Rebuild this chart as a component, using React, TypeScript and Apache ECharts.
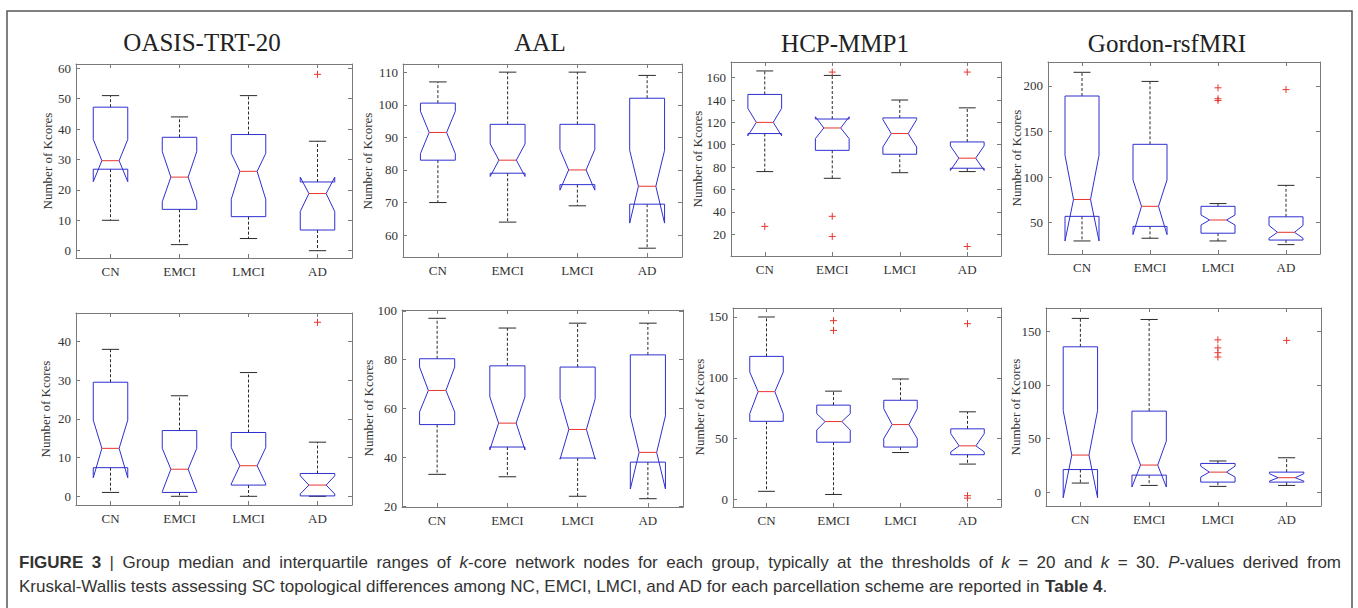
import React, { useEffect, useRef } from 'react';
import * as echarts from 'echarts';

const groups = ['CN', 'EMCI', 'LMCI', 'AD'];
const panelTitles = ['OASIS-TRT-20', 'AAL', 'HCP-MMP1', 'Gordon-rsfMRI'];
const yAxisLabel = 'Number of Kcores';

// each row: [whiskerLow, Q1, median, Q3, whiskerHigh, notchLow, notchHigh]
const oasisK20 = [
  [10, 26.8, 29.6, 47.2, 51, 22.7, 36.6],
  [2, 13.6, 24.2, 37.3, 44, 16.1, 32.6],
  [4, 11.2, 26.1, 38.2, 51, 16.9, 32],
  [0, 6.8, 18.8, 22.6, 36, 12.9, 24.2],
];
const aalK20 = [
  [70, 83, 91.5, 100.5, 107, 85, 98],
  [64, 79, 83, 94, 110, 78, 88],
  [69, 75.5, 80, 94, 110, 73.8, 86.3],
  [56, 69.5, 75, 102, 109, 63.7, 86],
];
const hcpK20 = [
  [76, 110, 120, 145, 166, 108, 132.5],
  [70, 95, 115, 123, 162, 105.5, 125],
  [75, 91.5, 110, 124, 140, 98, 122.5],
  [76, 79, 88, 102.5, 133, 77, 99],
];
const gordonK20 = [
  [30, 57, 75.5, 189, 215, 30, 124],
  [33, 46, 68, 136, 205, 37, 97],
  [30, 38.5, 53, 68, 71, 47.5, 58.5],
  [26, 31, 39.5, 56.5, 91, 33, 47],
];
const oasisK30 = [
  [1, 7.4, 12.4, 29.5, 38, 4.8, 19.7],
  [0, 1, 7, 17, 26, 1.2, 12.4],
  [0, 2.9, 7.9, 16.5, 32, 3.2, 12.6],
  [0, 0.1, 2.9, 5.9, 14, 0.6, 5.3],
];
const aalK30 = [
  [33, 53.4, 67.4, 80.4, 97, 58.6, 77],
  [32, 44.2, 54, 77.5, 93, 43, 64.8],
  [24, 39.7, 51.4, 77, 95, 39.2, 64],
  [23, 38, 42, 82, 95, 27, 57],
];
const hcpK30 = [
  [6.6, 64.2, 88.6, 117.6, 150, 70.5, 104.7],
  [4, 47, 64, 77.5, 89, 57, 70.5],
  [38.5, 43, 61.5, 81.5, 99, 50, 74.5],
  [29, 36.7, 44, 58, 72, 39, 54],
];
const gordonK30 = [
  [8.4, 21, 34.5, 135.5, 162, -5.3, 76],
  [6.2, 15.8, 25.2, 75.5, 161, 4.7, 47.5],
  [5.3, 9.3, 18.6, 26.7, 29, 14, 24.2],
  [6.2, 9.3, 13.4, 18.6, 32, 10.2, 17.1],
];

// outliers: [groupIndex, value]
const oasisK20Outliers = [[3, 58]];
const aalK20Outliers: number[][] = [];
const hcpK20Outliers = [[0, 27], [1, 165], [1, 36], [1, 18], [3, 165], [3, 9]];
const gordonK20Outliers = [[2, 198], [2, 186], [2, 184], [3, 196]];
const oasisK30Outliers = [[3, 45]];
const aalK30Outliers: number[][] = [];
const hcpK30Outliers = [[1, 147], [1, 139], [3, 144.5], [3, 3], [3, 1]];
const gordonK30Outliers = [[2, 142], [2, 134.5], [2, 130], [2, 126], [3, 141.5]];

// tick values
const oasisK20Ticks = [0, 10, 20, 30, 40, 50, 60];
const aalK20Ticks = [60, 70, 80, 90, 100, 110];
const hcpK20Ticks = [20, 40, 60, 80, 100, 120, 140, 160];
const gordonK20Ticks = [50, 100, 150, 200];
const oasisK30Ticks = [0, 10, 20, 30, 40];
const aalK30Ticks = [20, 40, 60, 80, 100];
const hcpK30Ticks = [0, 50, 100, 150];
const gordonK30Ticks = [0, 50, 100, 150];

const captionLine1 = '{b|FIGURE} {b|3} | Group median and interquartile ranges of {i|k}-core network nodes for each group, typically at the thresholds of {i|k} = 20 and {i|k} = 30. {i|P}-values derived from';
const captionLine2 = 'Kruskal-Wallis tests assessing SC topological differences among NC, EMCI, LMCI, and AD for each parcellation scheme are reported in {b|Table 4}.';

const panels = [
  { box: oasisK20, out: oasisK20Outliers, ticks: oasisK20Ticks, min: -2.4, max: 61.4, left: 76, top: 64, width: 276, height: 194 },
  { box: aalK20, out: aalK20Outliers, ticks: aalK20Ticks, min: 53.3, max: 112.5, left: 403, top: 64, width: 279, height: 193 },
  { box: hcpK20, out: hcpK20Outliers, ticks: hcpK20Ticks, min: 0.5, max: 174, left: 731, top: 62, width: 270, height: 194 },
  { box: gordonK20, out: gordonK20Outliers, ticks: gordonK20Ticks, min: 15.7, max: 226.3, left: 1048, top: 62, width: 272, height: 192 },
  { box: oasisK30, out: oasisK30Outliers, ticks: oasisK30Ticks, min: -2.25, max: 47.4, left: 76, top: 313, width: 276, height: 192 },
  { box: aalK30, out: aalK30Outliers, ticks: aalK30Ticks, min: 19.6, max: 100.4, left: 402, top: 310, width: 281, height: 197 },
  { box: hcpK30, out: hcpK30Outliers, ticks: hcpK30Ticks, min: -6.3, max: 157.4, left: 733, top: 308, width: 268, height: 199 },
  { box: gordonK30, out: gordonK30Outliers, ticks: gordonK30Ticks, min: -13, max: 171.7, left: 1046, top: 308, width: 275, height: 198 },
];

const titlePos = [[202, 42], [540, 42], [845, 43], [1167, 43]];
const yLabelPos = [[47, 161], [367, 161], [697, 159], [1016, 158], [45, 409], [368, 408], [699, 407], [1015, 407]];

const SERIF = "'Liberation Serif', 'Times New Roman', serif";
const SANS_NAME = 'Liberation Sans';
const SANS = "'Liberation Sans', Arial, sans-serif";
const CAPTION_SIZE = 17;
const axisColor = '#7a7a7a';
const boxColor = '#2f2fd2';
const medianColor = '#e8352e';
const whiskerColor = '#2a2a2a';
const outlierColor = '#e8352e';
const captionColor = '#333';

const renderBox = (params: any, api: any) => {
  const g = api.value(0);
  const x = api.coord([g, api.value(3)])[0];
  const band = api.size([1, 0])[0];
  const hw = band * 0.25;
  const nw = hw * 0.5;
  const cw = hw * 0.5;
  const y = (k: number) => api.coord([g, api.value(k)])[1];
  const lo = y(1), q1 = y(2), med = y(3), q3 = y(4), hi = y(5), nlo = y(6), nhi = y(7);
  const dash = { stroke: whiskerColor, lineWidth: 1, lineDash: [3, 2] };
  const solid = { stroke: whiskerColor, lineWidth: 1 };
  return {
    type: 'group',
    children: [
      { type: 'line', shape: { x1: x, y1: q3, x2: x, y2: hi }, style: dash },
      { type: 'line', shape: { x1: x, y1: q1, x2: x, y2: lo }, style: dash },
      { type: 'line', shape: { x1: x - cw, y1: hi, x2: x + cw, y2: hi }, style: solid },
      { type: 'line', shape: { x1: x - cw, y1: lo, x2: x + cw, y2: lo }, style: solid },
      {
        type: 'polygon',
        shape: {
          points: [
            [x - hw, q1], [x - hw, nlo], [x - hw + nw, med], [x - hw, nhi], [x - hw, q3],
            [x + hw, q3], [x + hw, nhi], [x + hw - nw, med], [x + hw, nlo], [x + hw, q1],
          ],
        },
        style: { fill: 'none', stroke: boxColor, lineWidth: 1 },
      },
      { type: 'line', shape: { x1: x - hw + nw, y1: med, x2: x + hw - nw, y2: med }, style: { stroke: medianColor, lineWidth: 1 } },
    ],
  };
};

const renderOutlier = (params: any, api: any) => {
  const p = api.coord([api.value(0), api.value(1)]);
  const s = 3.5;
  const st = { stroke: outlierColor, lineWidth: 1 };
  return {
    type: 'group',
    children: [
      { type: 'line', shape: { x1: p[0] - s, y1: p[1], x2: p[0] + s, y2: p[1] }, style: st },
      { type: 'line', shape: { x1: p[0], y1: p[1] - s, x2: p[0], y2: p[1] + s }, style: st },
    ],
  };
};

// parse "{b|x}plain{i|y}" into segments
function parseSegments(word: string) {
  const segs: { t: string; s: string }[] = [];
  const re = /\{(\w)\|([^}]*)\}|([^{]+)/g;
  let m: RegExpExecArray | null;
  while ((m = re.exec(word))) {
    if (m[1]) segs.push({ t: m[2], s: m[1] });
    else segs.push({ t: m[3], s: 'n' });
  }
  return segs;
}

function buildOption() {
  const grid: any[] = [];
  const xAxis: any[] = [];
  const yAxis: any[] = [];
  const series: any[] = [];
  const lineStyle = { color: axisColor, width: 1 };
  panels.forEach((p, i) => {
    grid.push({ left: p.left, top: p.top, width: p.width, height: p.height });
    const xBase = {
      type: 'category', gridIndex: i, data: groups,
      axisLine: { show: true, onZero: false, lineStyle },
      axisTick: { show: true, inside: true, alignWithLabel: true, length: 4, lineStyle },
      splitLine: { show: false },
    };
    xAxis.push({ ...xBase, position: 'bottom', axisLabel: { margin: 7, color: '#333', fontFamily: SERIF, fontSize: 13 } });
    xAxis.push({ ...xBase, position: 'top', axisLabel: { show: false } });
    const yBase = {
      type: 'value', gridIndex: i, min: p.min, max: p.max,
      axisLine: { show: true, onZero: false, lineStyle },
      axisTick: { show: true, inside: true, length: 4, lineStyle, customValues: p.ticks },
      splitLine: { show: false },
    };
    yAxis.push({ ...yBase, position: 'left', axisLabel: { customValues: p.ticks, margin: 5, color: '#333', fontFamily: SERIF, fontSize: 13 } });
    yAxis.push({ ...yBase, position: 'right', axisLabel: { show: false } });
    series.push({
      type: 'custom', xAxisIndex: 2 * i, yAxisIndex: 2 * i,
      data: p.box.map((s, g) => [g, ...s]),
      renderItem: renderBox, silent: true,
    });
    series.push({
      type: 'custom', xAxisIndex: 2 * i, yAxisIndex: 2 * i,
      data: p.out, renderItem: renderOutlier, silent: true,
    });
  });

  const graphic: any[] = [
    { type: 'rect', shape: { x: 7, y: 11, width: 1345, height: 640 }, style: { fill: 'none', stroke: '#555', lineWidth: 1.5 }, silent: true },
  ];
  panelTitles.forEach((t, i) => {
    graphic.push({ type: 'text', x: titlePos[i][0], y: titlePos[i][1], style: { text: t, fontFamily: SERIF, fontSize: 25, fill: '#222', align: 'center', verticalAlign: 'middle' } });
  });
  yLabelPos.forEach((pos) => {
    graphic.push({ type: 'text', x: pos[0], y: pos[1], rotation: Math.PI / 2, style: { text: yAxisLabel, fontFamily: SERIF, fontSize: 13, fill: '#333', align: 'center', verticalAlign: 'middle' } });
  });

  const rich = {
    b: { fontWeight: 'bold', fontFamily: SANS, fontSize: CAPTION_SIZE, fill: captionColor },
    i: { fontStyle: 'italic', fontFamily: SANS, fontSize: CAPTION_SIZE, fill: captionColor },
    n: { fontFamily: SANS, fontSize: CAPTION_SIZE, fill: captionColor },
  };
  const toRich = (segs: { t: string; s: string }[]) => segs.map((sg) => `{${sg.s}|${sg.t}}`).join('');

  // justified first caption line
  const canvas = document.createElement('canvas');
  const ctx = canvas.getContext('2d')!;
  const measure = (segs: { t: string; s: string }[]) =>
    segs.reduce((acc, sg) => {
      ctx.font = `${sg.s === 'i' ? 'italic ' : ''}${sg.s === 'b' ? 'bold ' : ''}${CAPTION_SIZE}px '${SANS_NAME}'`;
      return acc + ctx.measureText(sg.t).width;
    }, 0);
  const words = captionLine1.split(' ').map(parseSegments);
  const widths = words.map(measure);
  const lineStart = 19;
  const lineEnd = 1341;
  const gap = (lineEnd - lineStart - widths.reduce((a, b) => a + b, 0)) / (words.length - 1);
  let cx = lineStart;
  words.forEach((w, k) => {
    graphic.push({ type: 'text', x: cx, y: 562, style: { text: toRich(w), rich, fontFamily: SANS, fontSize: CAPTION_SIZE, fill: captionColor, verticalAlign: 'middle' } });
    cx += widths[k] + gap;
  });
  graphic.push({
    type: 'text', x: lineStart, y: 586,
    style: { text: toRich(parseSegments(captionLine2)), rich, fontFamily: SANS, fontSize: CAPTION_SIZE, fill: captionColor, verticalAlign: 'middle' },
  });

  return { animation: false, backgroundColor: '#fff', grid, xAxis, yAxis, series, graphic };
}

export default function App() {
  const ref = useRef<HTMLDivElement>(null);
  useEffect(() => {
    if (!ref.current) return;
    const chart = echarts.init(ref.current, undefined, { renderer: 'svg' });
    chart.setOption(buildOption() as any);
    return () => chart.dispose();
  }, []);
  return <div ref={ref} style={{ position: 'fixed', left: 0, top: 0, width: 1358, height: 608, background: '#fff' }} />;
}
